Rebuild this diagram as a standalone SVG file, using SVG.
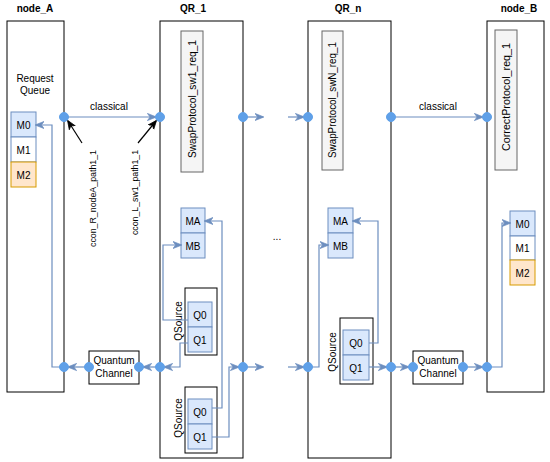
<svg xmlns="http://www.w3.org/2000/svg" width="550" height="462" viewBox="0 0 550 462">
<defs>
<marker id="ab" viewBox="0 0 10 10" refX="9" refY="5" markerWidth="9" markerHeight="9" markerUnits="userSpaceOnUse" orient="auto">
<path d="M0,1 L10,5 L0,9 L3,5 Z" fill="#6c8ebf" stroke="#6c8ebf" stroke-width="0.8"/>
</marker>
<marker id="ak" viewBox="0 0 10 10" refX="9" refY="5" markerWidth="9" markerHeight="9" markerUnits="userSpaceOnUse" orient="auto">
<path d="M0,1 L10,5 L0,9 L3,5 Z" fill="#000" stroke="#000" stroke-width="0.8"/>
</marker>
</defs>
<style>
text{font-family:"Liberation Sans",Arial,sans-serif;font-size:10px;fill:#000}
.title{font-weight:bold;text-anchor:middle}
.c{text-anchor:middle}
.rot{text-anchor:end}
.small{font-size:9.5px}
.node{fill:#fff;stroke:#000;stroke-width:1}
.blue{fill:#dae8fc;stroke:#6c8ebf;stroke-width:1}
.white{fill:#fff;stroke:#6c8ebf;stroke-width:1}
.orange{fill:#ffe6cc;stroke:#d79b00;stroke-width:1}
.proto{fill:#f5f5f5;stroke:#666;stroke-width:1}
.qs{fill:#fff;stroke:#000;stroke-width:1}
.cn{fill:none;stroke:#6c8ebf;stroke-width:1.2;marker-end:url(#ab)}
.bk{fill:none;stroke:#000;stroke-width:1.2;marker-end:url(#ak)}
.dot{fill:#5fa0e8;stroke:#5fa0e8}
</style>
<rect width="550" height="462" fill="#fff"/>

<g id="node_A">
<text class="title" x="35" y="12">node_A</text>
<rect class="node" x="7" y="21" width="57" height="371"/>
<text class="c" x="35" y="82">Request</text>
<text class="c" x="35" y="94">Queue</text>
<rect class="blue" x="11" y="112" width="25" height="25"/>
<text class="c" x="23.5" y="128.5">M0</text>
<rect class="white" x="11" y="137" width="25" height="25"/>
<text class="c" x="23.5" y="153.5">M1</text>
<rect class="orange" x="11" y="162" width="25" height="25"/>
<text class="c" x="23.5" y="178.5">M2</text>
</g>

<g id="QR_1">
<text class="title" x="193" y="12">QR_1</text>
<rect class="node" x="160" y="21" width="83" height="437"/>
<rect class="proto" x="181" y="31" width="22" height="141"/>
<text class="rot" transform="translate(192,40) rotate(-90)" dominant-baseline="central" textLength="118" lengthAdjust="spacingAndGlyphs">SwapProtocol_sw1_req_1</text>
<rect class="blue" x="181" y="208" width="24" height="25"/>
<text class="c" x="193" y="224.5">MA</text>
<rect class="blue" x="181" y="233" width="24" height="25"/>
<text class="c" x="193" y="249.5">MB</text>
<g id="QSource_1a">
<rect class="qs" x="185" y="288" width="32" height="67"/>
<text class="c" transform="translate(178,321) rotate(-90)" dominant-baseline="central">QSource</text>
<rect class="blue" x="188" y="302" width="24" height="25"/>
<text class="c" x="200" y="318.5">Q0</text>
<rect class="blue" x="188" y="327" width="24" height="25"/>
<text class="c" x="200" y="343.5">Q1</text>
</g>
<g id="QSource_1b">
<rect class="qs" x="185" y="387" width="32" height="66"/>
<text class="c" transform="translate(178,418) rotate(-90)" dominant-baseline="central">QSource</text>
<rect class="blue" x="188" y="399" width="24" height="25"/>
<text class="c" x="200" y="415.5">Q0</text>
<rect class="blue" x="188" y="424" width="24" height="25"/>
<text class="c" x="200" y="440.5">Q1</text>
</g>
</g>

<g id="QR_n">
<text class="title" x="348" y="12">QR_n</text>
<rect class="node" x="308" y="21" width="83" height="437"/>
<rect class="proto" x="322" y="31" width="21" height="139"/>
<text class="rot" transform="translate(332.5,42) rotate(-90)" dominant-baseline="central" textLength="116" lengthAdjust="spacingAndGlyphs">SwapProtocol_swN_req_1</text>
<rect class="blue" x="328" y="208" width="25" height="25"/>
<text class="c" x="340.5" y="224.5">MA</text>
<rect class="blue" x="328" y="233" width="25" height="25"/>
<text class="c" x="340.5" y="249.5">MB</text>
<g id="QSource_n">
<rect class="qs" x="340" y="318" width="33" height="66"/>
<text class="c" transform="translate(332,352) rotate(-90)" dominant-baseline="central">QSource</text>
<rect class="blue" x="343" y="330" width="26" height="25"/>
<text class="c" x="356" y="346.5">Q0</text>
<rect class="blue" x="343" y="355" width="26" height="25"/>
<text class="c" x="356" y="371.5">Q1</text>
</g>
</g>

<g id="node_B">
<text class="title" x="519" y="12">node_B</text>
<rect class="node" x="487" y="21" width="57" height="371"/>
<rect class="proto" x="495" y="30" width="22" height="140"/>
<text class="rot" transform="translate(506,43) rotate(-90)" dominant-baseline="central" textLength="108" lengthAdjust="spacingAndGlyphs">CorrectProtocol_req_1</text>
<rect class="blue" x="510" y="211" width="25" height="25"/>
<text class="c" x="522.5" y="227.5">M0</text>
<rect class="white" x="510" y="236" width="25" height="24"/>
<text class="c" x="522.5" y="252">M1</text>
<rect class="orange" x="510" y="260" width="25" height="25"/>
<text class="c" x="522.5" y="276.5">M2</text>
</g>

<g id="QC_left">
<rect class="node" x="89" y="351" width="50" height="33"/>
<text class="c" x="114" y="364">Quantum</text>
<text class="c" x="114" y="377">Channel</text>
</g>

<g id="QC_right">
<rect class="node" x="413" y="351" width="50" height="33"/>
<text class="c" x="438" y="364">Quantum</text>
<text class="c" x="438" y="377">Channel</text>
</g>

<g id="connectors">
<path class="cn" d="M64,117 H155.5"/>
<path class="cn" d="M243,117 H263"/>
<path class="cn" d="M288,117 H303.5"/>
<path class="cn" d="M391,117 H482.5"/>
<path class="cn" d="M160,367 H143.5"/>
<path class="cn" d="M89,367 H68.5"/>
<path class="cn" d="M64,367 H52 V125 H36"/>
<path class="cn" d="M188,343 H180 V367 H164.5"/>
<path class="cn" d="M188,320 H163 V245 H181"/>
<path class="cn" d="M212,408 H222 V221 H205"/>
<path class="cn" d="M212,437 H229 V367 H238.5"/>
<path class="cn" d="M243,367 H263"/>
<path class="cn" d="M288,367 H303.5"/>
<path class="cn" d="M308,367 H319 V245 H328"/>
<path class="cn" d="M369,343 H378 V221 H353"/>
<path class="cn" d="M369,367 H386.5"/>
<path class="cn" d="M391,367 H408.5"/>
<path class="cn" d="M463,367 H482.5"/>
<path class="cn" d="M487,367 H502 V223 H510"/>
<path class="bk" d="M82,143 L68,121"/>
<path class="bk" d="M138,143 L156,121"/>
<circle class="dot" cx="64" cy="117" r="4.5"/>
<circle class="dot" cx="160" cy="117" r="4.5"/>
<circle class="dot" cx="243" cy="117" r="4.5"/>
<circle class="dot" cx="308" cy="117" r="4.5"/>
<circle class="dot" cx="391" cy="117" r="4.5"/>
<circle class="dot" cx="487" cy="117" r="4.5"/>
<circle class="dot" cx="64" cy="367" r="4.5"/>
<circle class="dot" cx="89" cy="367" r="4.5"/>
<circle class="dot" cx="139" cy="367" r="4.5"/>
<circle class="dot" cx="160" cy="367" r="4.5"/>
<circle class="dot" cx="243" cy="367" r="4.5"/>
<circle class="dot" cx="308" cy="367" r="4.5"/>
<circle class="dot" cx="391" cy="367" r="4.5"/>
<circle class="dot" cx="413" cy="367" r="4.5"/>
<circle class="dot" cx="463" cy="367" r="4.5"/>
<circle class="dot" cx="487" cy="367" r="4.5"/>
<text class="c" x="109" y="110">classical</text>
<text class="c" x="438" y="110">classical</text>
<text class="rot small" transform="translate(92,150) rotate(-90)" dominant-baseline="central" textLength="97" lengthAdjust="spacingAndGlyphs">ccon_R_nodeA_path1_1</text>
<text class="rot small" transform="translate(134,150) rotate(-90)" dominant-baseline="central" textLength="85" lengthAdjust="spacingAndGlyphs">ccon_L_sw1_path1_1</text>
<text class="c" x="277" y="240">...</text>
</g>
</svg>
